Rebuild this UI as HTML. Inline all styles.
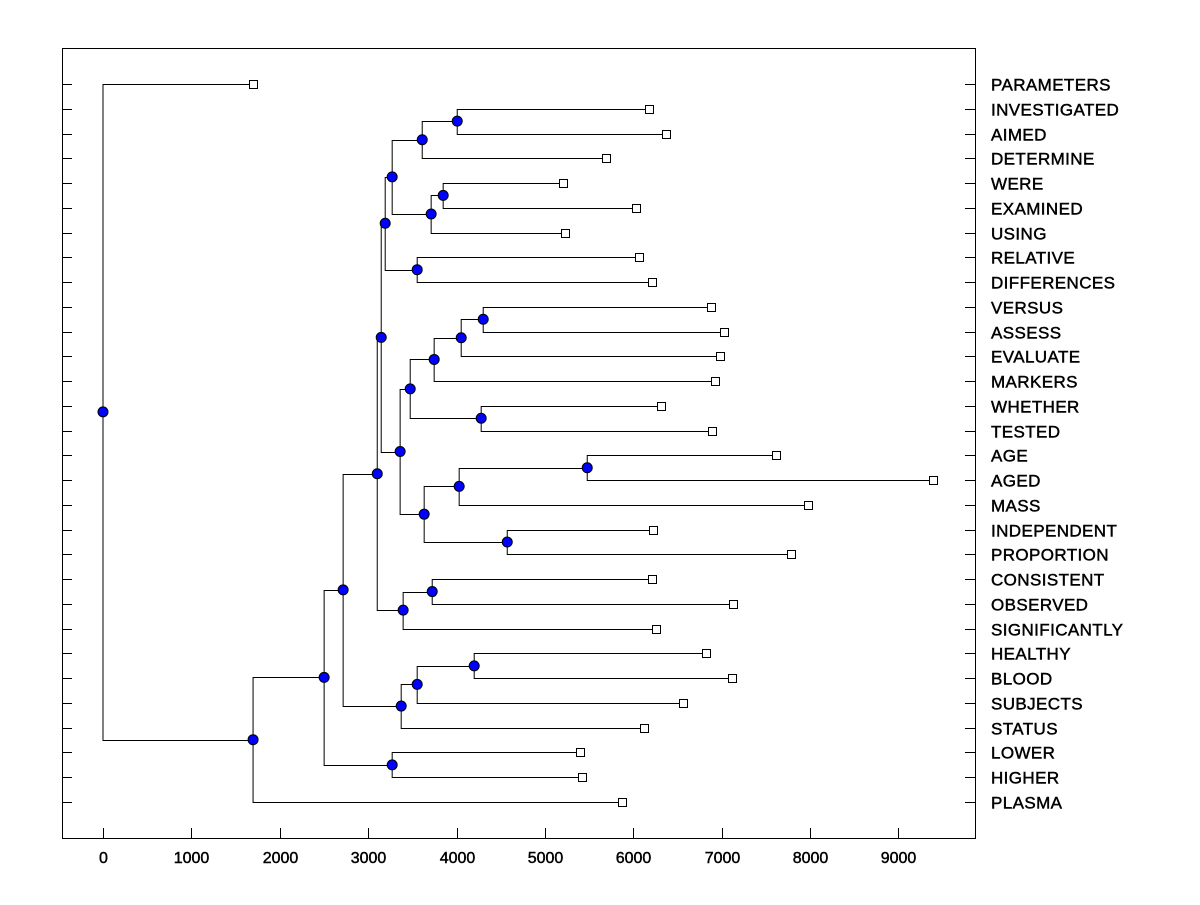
<!DOCTYPE html>
<html><head><meta charset="utf-8"><style>
body{margin:0;background:#fff}
svg text{font-family:"Liberation Sans",Arial,sans-serif}
</style></head><body>
<svg id="chart" width="1200" height="900" xmlns="http://www.w3.org/2000/svg"></svg>
<script>
const leaves=["PARAMETERS","INVESTIGATED","AIMED","DETERMINE","WERE","EXAMINED","USING","RELATIVE","DIFFERENCES","VERSUS","ASSESS","EVALUATE","MARKERS","WHETHER","TESTED","AGE","AGED","MASS","INDEPENDENT","PROPORTION","CONSISTENT","OBSERVED","SIGNIFICANTLY","HEALTHY","BLOOD","SUBJECTS","STATUS","LOWER","HIGHER","PLASMA"];
const leafValues=[1698,6181,6374,5695,5208,6034,5230,6068,6215,6883,7030,6985,6928,6317,6894,7619,9396,7981,6226,7789,6215,7132,6260,6826,7121,6566,6124,5400,5423,5876];
// merges: child A, child B (number = leaf index, "nK" = merge K), merge height
const mergeA=[1,"n0",4,"n2","n1",7,"n4",9,"n7","n8",13,"n9",15,"n12",18,"n13","n11","n6",20,"n18","n17",23,"n21","n22","n20",27,"n24","n26",0];
const mergeB=[2,3,5,6,"n3",8,"n5",10,11,12,14,"n10",16,17,19,"n14","n15","n16",21,22,"n19",24,25,26,"n23",28,"n25",29,"n27"];
const mergeH=[4008,3612,3849,3713,3272,3555,3193,4302,4053,3747,4279,3476,5479,4030,4574,3634,3362,3148,3725,3396,3103,4200,3555,3374,2717,3272,2502,1698,0];
const xTicks=[0,1000,2000,3000,4000,5000,6000,7000,8000,9000];
const NS="http://www.w3.org/2000/svg",svg=document.getElementById('chart');
const X0=62,X1=975,Y0=48,Y1=838;
const xs=v=>103+v*0.08838;
const ys=i=>84+i*(802-84)/29;
function el(t,a){const e=document.createElementNS(NS,t);for(const k in a)e.setAttribute(k,a[k]);svg.appendChild(e);return e;}
const frame=el('rect',{x:X0+0.5,y:Y0+0.5,width:X1-X0,height:Y1-Y0,fill:'none',stroke:'#000'});


xTicks.forEach(t=>{const x=Math.round(xs(t))+0.5;
 const l=el('line',{x1:x,x2:x,y1:Y1,y2:Y1-10,stroke:'#000'});
 
 
 const tx=el('text',{x:x,y:863,'text-anchor':'middle','font-size':16,stroke:'#000','stroke-width':0.45});tx.textContent=t;
 
 
});
leaves.forEach((n,i)=>{const y=Math.round(ys(i))+0.5;
 const a=el('line',{x1:X0,x2:X0+10,y1:y,y2:y,stroke:'#000'});
 
 
 const b=el('line',{x1:X1-10,x2:X1,y1:y,y2:y,stroke:'#000'});
 
 
 const t=el('text',{x:991,y:y+6,'font-size':17,'letter-spacing':0.4,stroke:'#000','stroke-width':0.45});t.textContent=n;
 
 
});
const nodes=[];
function pos(c){if(typeof c==='number')return {x:xs(leafValues[c]),y:ys(c)};return nodes[+c.slice(1)];}
mergeH.forEach((h,k)=>{
 const a=pos(mergeA[k]),b=pos(mergeB[k]),x=xs(h),y=(a.y+b.y)/2;
 nodes.push({x,y});
 const d=`M${a.x},${Math.round(a.y)+0.5}H${x}V${Math.round(b.y)+0.5}H${b.x}`;
 const pa=el('path',{d:d,fill:'none',stroke:'#000'});
 
 
});
leaves.forEach((n,i)=>{
 const r=el('rect',{x:Math.round(xs(leafValues[i]))-3.5,y:Math.round(ys(i))-3.5,width:8,height:8,fill:'#fff',stroke:'#000'});
 
 
});
nodes.forEach(d=>{
 const c=el('circle',{cx:d.x,cy:d.y,r:5,fill:'#0000ff',stroke:'#000'});
 
 
});
</script>
</body></html>
